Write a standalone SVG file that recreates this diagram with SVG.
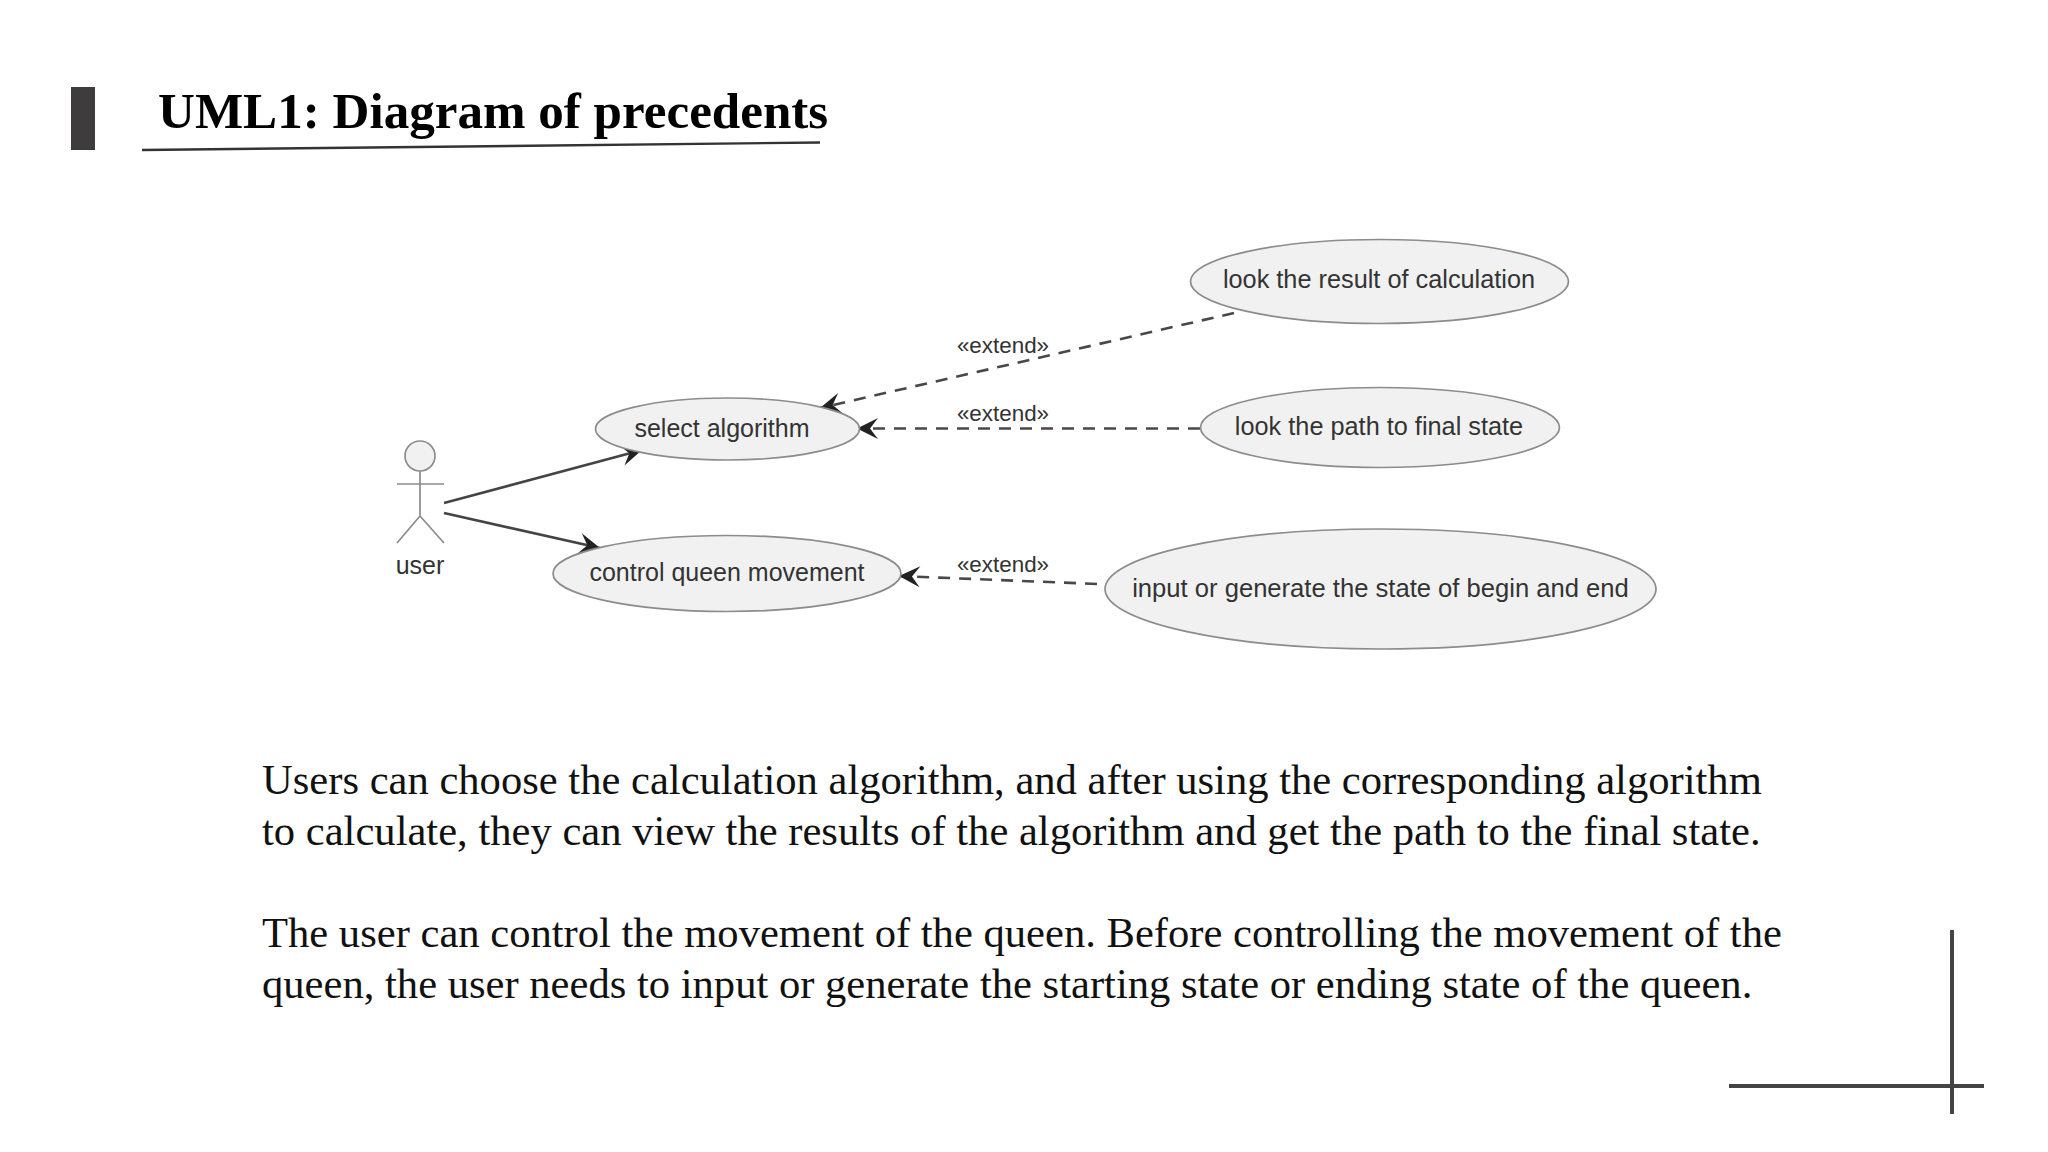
<svg xmlns="http://www.w3.org/2000/svg" width="2048" height="1152" viewBox="0 0 2048 1152">
<style>
.uc{fill:#f1f1f1;stroke:#8c8c8c;stroke-width:1.7}
.lb{font-family:"Liberation Sans",Arial,sans-serif;font-size:25px;fill:#333;text-anchor:middle}
.ex{font-family:"Liberation Sans",Arial,sans-serif;font-size:22.4px;fill:#333;text-anchor:middle}
.body{font-family:"Liberation Serif","Times New Roman",serif;font-size:42.6px;fill:#111}
.solid{fill:none;stroke:#444;stroke-width:2.6;marker-end:url(#ah)}
.dash{fill:none;stroke:#484848;stroke-width:2.6;stroke-dasharray:12 9;marker-end:url(#ah)}
.act{fill:none;stroke:#8c8c8c;stroke-width:1.7}
.rule{stroke:#444;stroke-width:4;fill:none}
</style>
<defs>
<marker id="ah" markerUnits="userSpaceOnUse" markerWidth="30" markerHeight="30" refX="24" refY="15" orient="auto" overflow="visible">
<path d="M24,15 L3,4.5 L11,15 L3,25.5 Z" fill="#222"/>
</marker>
</defs>
<rect width="2048" height="1152" fill="#fff"/>
<g id="header">
<rect x="71" y="87" width="24" height="63" fill="#3e3c3c"/>
<text x="158" y="128" font-family="'Liberation Serif','Times New Roman',serif" font-weight="bold" font-size="51.1px" fill="#000">UML1: Diagram of precedents</text>
<path d="M142,150 L820,142.5" fill="none" stroke="#333" stroke-width="2.4"/>
</g>
<g id="connectors">
<path class="solid" d="M444,503 L642,450"/>
<path class="solid" d="M444,513 L600,548"/>
<path class="dash" d="M1234,313 L820,408"/>
<path class="dash" d="M1200,428.5 L857,428.5"/>
<path class="dash" d="M1097,584 L899,576"/>
<text class="ex" x="1003" y="353">«extend»</text>
<text class="ex" x="1003" y="421">«extend»</text>
<text class="ex" x="1003" y="572">«extend»</text>
</g>
<g id="actor-user">
<circle class="act" cx="420" cy="456" r="15" style="fill:#f1f1f1"/>
<path class="act" d="M420,471 V516 M397,484 H444 M397,543 L420,516 L444,543"/>
<text class="lb" x="420" y="574">user</text>
</g>
<g id="uc-select"><ellipse class="uc" cx="727.5" cy="429" rx="132" ry="31"/><text class="lb" x="722" y="437">select algorithm</text></g>
<g id="uc-control"><ellipse class="uc" cx="727" cy="573.5" rx="174" ry="38"/><text class="lb" x="727" y="581">control queen movement</text></g>
<g id="uc-result"><ellipse class="uc" cx="1379.5" cy="281.5" rx="189" ry="42"/><text class="lb" x="1379" y="288" style="font-size:25.3px">look the result of calculation</text></g>
<g id="uc-path"><ellipse class="uc" cx="1380" cy="427.5" rx="179.5" ry="40"/><text class="lb" x="1379" y="435" style="font-size:25.3px">look the path to final state</text></g>
<g id="uc-input"><ellipse class="uc" cx="1380.5" cy="589" rx="275.5" ry="60"/><text class="lb" x="1380.5" y="597" style="font-size:25.6px">input or generate the state of begin and end</text></g>
<g id="description">
<text class="body" x="262" y="794">Users can choose the calculation algorithm, and after using the corresponding algorithm</text>
<text class="body" x="262" y="845">to calculate, they can view the results of the algorithm and get the path to the final state.</text>
<text class="body" x="262" y="947">The user can control the movement of the queen. Before controlling the movement of the</text>
<text class="body" x="262" y="998">queen, the user needs to input or generate the starting state or ending state of the queen.</text>
</g>
<g id="corner-mark">
<path class="rule" d="M1952,930 V1114 M1729,1086 H1984"/>
</g>
</svg>
